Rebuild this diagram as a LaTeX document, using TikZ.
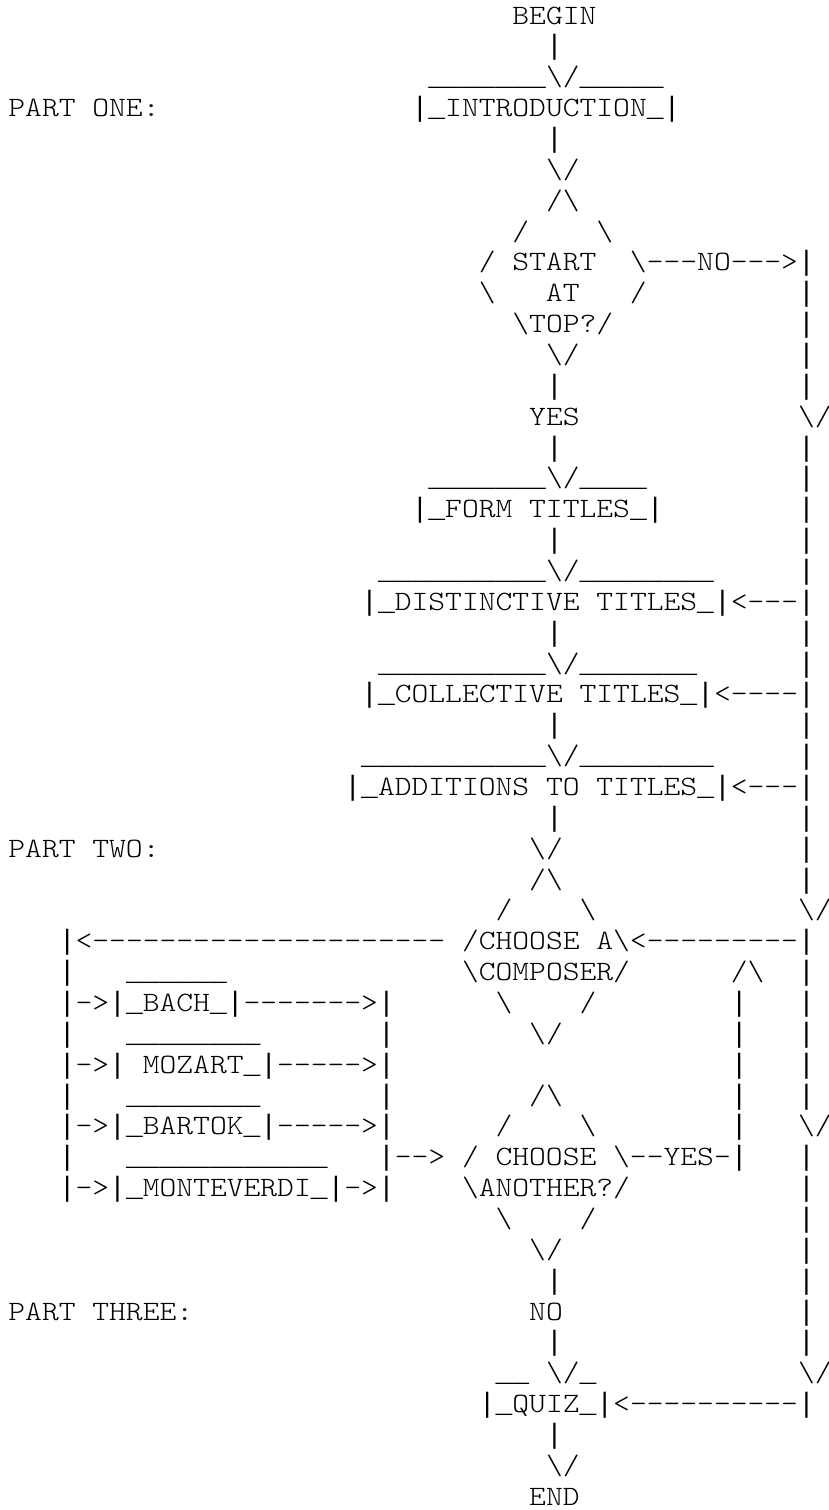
\documentclass[tikz,border=0pt]{standalone}
\usepackage{fontspec}
\setmonofont{lmmonolt10-regular.otf}[FakeStretch=1.143]
\newfontfamily\barfont{Liberation Mono}
\usepackage{tikz}
\newcommand{\bsl}{\textbackslash}
\newcommand{\vb}{{\barfont|}}
\newcommand{\us}{{\barfont\_}}
\newcommand{\unders}[1]{\foreach \i in {1,...,#1}{\us}}

\begin{document}
\begin{tikzpicture}[x=8.4pt,y=-15.43pt,
  every node/.style={font=\ttfamily\fontsize{14pt}{16pt}\selectfont,
    inner sep=0pt, anchor=base west}]
\useasboundingbox (-4pt,12pt) rectangle (410.5pt,-743pt);
\clip (-4pt,12pt) rectangle (410.5pt,-743pt);
\node (begin) at (30,0) {BEGIN};
\node (bar1) at (32,1) {\vb};
\node (introtop) at (25,2) {\unders{7}\bsl/\unders{5}};
\node (partone) at (0,3) {PART ONE:};
\node (intro) at (24,3) {\vb\us INTRODUCTION\us\vb};
\node (bar2) at (32,4) {\vb};
\node (arr1) at (32,5) {\bsl/};
\node (topq1) at (32,6) {/\bsl};
\node (topq2) at (30,7) {/~~~~\bsl};
\node (startq) at (28,8) {/ START~~\bsl---NO--->\vb};
\node (atq) at (28,9) {\bsl~~~AT~~~/};
\node (topq) at (30,10) {\bsl TOP?/};
\node (topq3) at (32,11) {\bsl/};
\node (bar3) at (32,12) {\vb};
\node (yes1) at (31,13) {YES};
\node (bar4) at (32,14) {\vb};
\node (formtop) at (25,15) {\unders{7}\bsl/\unders{4}};
\node (form) at (24,16) {\vb\us FORM TITLES\us\vb};
\node (bar5) at (32,17) {\vb};
\node (distop) at (22,18) {\unders{10}\bsl/\unders{8}};
\node (distinct) at (21,19) {\vb\us DISTINCTIVE TITLES\us\vb<---\vb};
\node (bar6) at (32,20) {\vb};
\node (colltop) at (22,21) {\unders{10}\bsl/\unders{7}};
\node (collect) at (21,22) {\vb\us COLLECTIVE TITLES\us\vb<----\vb};
\node (bar7) at (32,23) {\vb};
\node (addtop) at (21,24) {\unders{11}\bsl/\unders{8}};
\node (addit) at (20,25) {\vb\us ADDITIONS TO TITLES\us\vb<---\vb};
\node (bar8) at (32,26) {\vb};
\node (parttwo) at (0,27) {PART TWO:};
\node (arr2) at (31,27) {\bsl/};
\node (compq1) at (31,28) {/\bsl};
\node (compq2) at (29,29) {/~~~~\bsl};
\node (back) at (3,30) {\vb<---------------------};
\node (compq) at (27,30) {/CHOOSE A\bsl<---------\vb};
\node (composer) at (27,31) {\bsl COMPOSER/};
\node (bachtop) at (7,31) {\unders{6}};
\node (uparr) at (43,31) {/\bsl};
\node (bach) at (3,32) {\vb->\vb\us BACH\us\vb------->\vb};
\node (compq3) at (29,32) {\bsl~~~~/};
\node (mozatop) at (7,33) {\unders{8}};
\node (compq4) at (31,33) {\bsl/};
\node (mozart) at (3,34) {\vb->\vb~MOZART\us\vb----->\vb};
\node (bartop) at (7,35) {\unders{8}};
\node (anotq1) at (31,35) {/\bsl};
\node (bartok) at (3,36) {\vb->\vb\us BARTOK\us\vb----->\vb};
\node (anotq2) at (29,36) {/~~~~\bsl};
\node (montop) at (7,37) {\unders{12}};
\node (join) at (22,37) {\vb-->};
\node (anotq) at (27,37) {/ CHOOSE \bsl--YES-\vb};
\node (monte) at (3,38) {\vb->\vb\us MONTEVERDI\us\vb->\vb};
\node (another) at (27,38) {\bsl ANOTHER?/};
\node (anotq3) at (29,39) {\bsl~~~~/};
\node (anotq4) at (31,40) {\bsl/};
\node (bar9) at (32,41) {\vb};
\node (partthree) at (0,42) {PART THREE:};
\node (no1) at (31,42) {NO};
\node (bar10) at (32,43) {\vb};
\node (quiztop) at (29,44) {\us\us~\bsl/\us};
\node (quiz) at (28,45) {\vb\us QUIZ\us\vb<----------\vb};
\node (bar11) at (32,46) {\vb};
\node (arr3) at (32,47) {\bsl/};
\node (end) at (31,48) {END};
\foreach \r in {9,10,11,12,14,15,16,17,18,20,21,23,24,26,27,28,
  31,32,33,34,35,37,38,39,40,41,42,43}
  \node (rail\r) at (47,\r) {\vb};
\foreach \r in {13,29,36,44}
  \node (raildown\r) at (47,\r) {\bsl/};
\foreach \r in {32,...,36}
  \node (loop\r) at (43,\r) {\vb};
\foreach \r in {31,33,35,37}
  \node (left\r) at (3,\r) {\vb};
\foreach \r in {33,35}
  \node (right\r) at (22,\r) {\vb};
\end{tikzpicture}
\end{document}
